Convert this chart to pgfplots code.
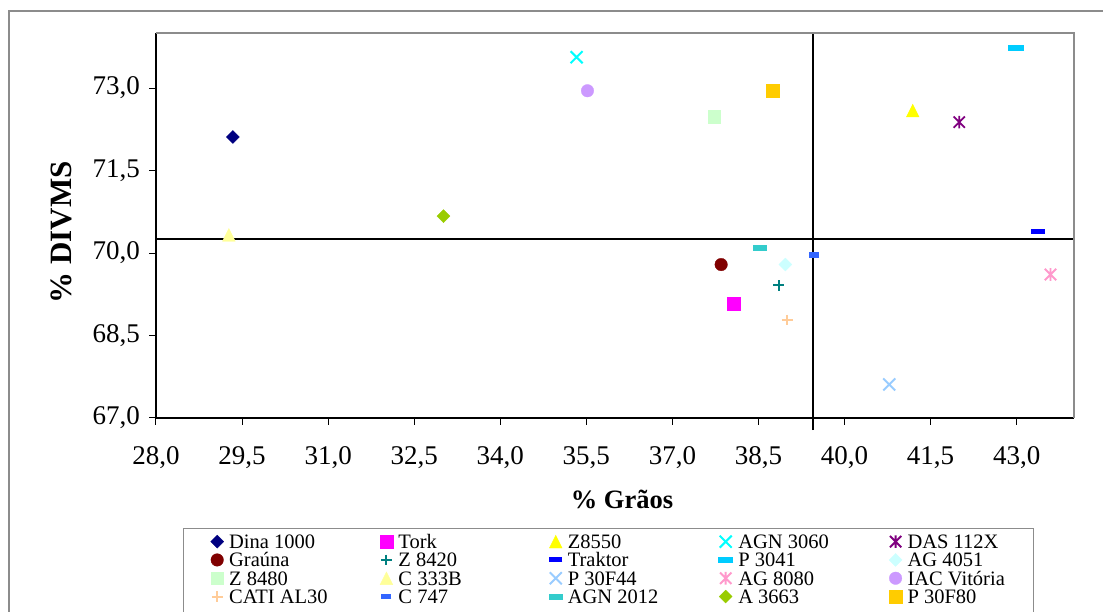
\documentclass[border=0pt]{standalone}
\usepackage{fontspec}
\setmainfont{Liberation Serif}
\usepackage{pgfplots}
\pgfplotsset{compat=1.18}

% marker colours
\definecolor{cNavy}{HTML}{000080}
\definecolor{cMagenta}{HTML}{FF00FF}
\definecolor{cYellow}{HTML}{FFFF00}
\definecolor{cCyan}{HTML}{00FFFF}
\definecolor{cPurple}{HTML}{800080}
\definecolor{cDarkRed}{HTML}{800000}
\definecolor{cTeal}{HTML}{008080}
\definecolor{cBlue}{HTML}{0000FF}
\definecolor{cSky}{HTML}{00CCFF}
\definecolor{cLightCyan}{HTML}{CCFFFF}
\definecolor{cLightGreen}{HTML}{CCFFCC}
\definecolor{cLightYellow}{HTML}{FFFF99}
\definecolor{cPaleBlue}{HTML}{99CCFF}
\definecolor{cRose}{HTML}{FF99CC}
\definecolor{cLavender}{HTML}{CC99FF}
\definecolor{cTan}{HTML}{FFCC99}
\definecolor{cRoyal}{HTML}{3366FF}
\definecolor{cAqua}{HTML}{33CCCC}
\definecolor{cLime}{HTML}{99CC00}
\definecolor{cGold}{HTML}{FFCC00}
\definecolor{frameGray}{HTML}{8C8C8C}

% plot marks in the spreadsheet style
\pgfdeclareplotmark{dmd}{%
  \pgfpathmoveto{\pgfqpoint{0pt}{\pgfplotmarksize}}%
  \pgfpathlineto{\pgfqpoint{\pgfplotmarksize}{0pt}}%
  \pgfpathlineto{\pgfqpoint{0pt}{-\pgfplotmarksize}}%
  \pgfpathlineto{\pgfqpoint{-\pgfplotmarksize}{0pt}}%
  \pgfpathclose\pgfusepathqfillstroke}
\pgfdeclareplotmark{tri}{%
  \pgfpathmoveto{\pgfqpoint{0pt}{\pgfplotmarksize}}%
  \pgfpathlineto{\pgfqpoint{\pgfplotmarksize}{-\pgfplotmarksize}}%
  \pgfpathlineto{\pgfqpoint{-\pgfplotmarksize}{-\pgfplotmarksize}}%
  \pgfpathclose\pgfusepathqfillstroke}
\pgfdeclareplotmark{cross}{%
  \pgfpathmoveto{\pgfqpoint{-\pgfplotmarksize}{-\pgfplotmarksize}}%
  \pgfpathlineto{\pgfqpoint{\pgfplotmarksize}{\pgfplotmarksize}}%
  \pgfpathmoveto{\pgfqpoint{-\pgfplotmarksize}{\pgfplotmarksize}}%
  \pgfpathlineto{\pgfqpoint{\pgfplotmarksize}{-\pgfplotmarksize}}%
  \pgfusepathqstroke}
\pgfdeclareplotmark{xstar}{%
  \pgfpathmoveto{\pgfqpoint{0pt}{-\pgfplotmarksize}}%
  \pgfpathlineto{\pgfqpoint{0pt}{\pgfplotmarksize}}%
  \pgfpathmoveto{\pgfqpoint{-.9\pgfplotmarksize}{-.9\pgfplotmarksize}}%
  \pgfpathlineto{\pgfqpoint{.9\pgfplotmarksize}{.9\pgfplotmarksize}}%
  \pgfpathmoveto{\pgfqpoint{-.9\pgfplotmarksize}{.9\pgfplotmarksize}}%
  \pgfpathlineto{\pgfqpoint{.9\pgfplotmarksize}{-.9\pgfplotmarksize}}%
  \pgfusepathqstroke}

\pgfplotsset{
  pdia/.style={only marks, mark=dmd, mark size=6.5pt, color=#1, mark options={solid, line width=0.3pt}},
  psq/.style={only marks, mark=square*, mark size=6.3pt, color=#1, mark options={solid, line width=0.3pt}},
  ptri/.style={only marks, mark=tri, mark size=6.4pt, color=#1, mark options={solid, line width=0.3pt}},
  pcirc/.style={only marks, mark=*, mark size=6.3pt, color=#1, mark options={solid, line width=0.3pt}},
  pcross/.style={only marks, mark=cross, mark size=6pt, color=#1, mark options={solid, line width=2pt}},
  pstar/.style={only marks, mark=xstar, mark size=6.3pt, color=#1, mark options={solid, line width=1.9pt}},
  pplus/.style={only marks, mark=+, mark size=5.4pt, color=#1, mark options={solid, line width=2pt}},
}

\newcommand{\legtext}[1]{\makebox[155.3pt][l]{\hspace{5pt}#1}}
\newcommand{\legtextlast}[1]{\makebox[104pt][l]{\hspace{5pt}#1}}

\begin{document}
\begin{tikzpicture}
\useasboundingbox (-156pt,-194pt) rectangle (947pt,418pt);
% chart area border
\draw[frameGray, line width=1.5pt] (-147pt,-300pt) rectangle (1000pt,407pt);
\begin{axis}[
  scale only axis, width=918pt, height=385pt,
  xmin=28, xmax=44, ymin=67, ymax=74,
  clip=false,
  axis x line*=bottom, axis y line*=left,
  axis line style={black, line width=1.2pt},
  xtick={28,29.5,31,32.5,34,35.5,37,38.5,40,41.5,43},
  ytick={67,68.5,70,71.5,73},
  tick align=outside, major tick length=7pt,
  tick style={black, line width=1pt},
  ticklabel style={font=\fontsize{27}{30}\selectfont, inner sep=0pt},
  xticklabel shift=21.7pt, yticklabel shift=9pt,
  /pgf/number format/fixed, /pgf/number format/fixed zerofill,
  /pgf/number format/precision=1, /pgf/number format/use comma,
  /pgf/number format/assume math mode=true,
  xlabel={\% Grãos}, ylabel={\% DIVMS},
  xlabel style={font=\fontsize{26.5}{30}\selectfont\bfseries,
    at={(rel axis cs:0.5076,-0.2338)}, anchor=base},
  ylabel style={font=\fontsize{31}{34}\selectfont\bfseries,
    at={(rel axis cs:-0.0915,0.482)}, anchor=base},
  legend columns=5,
  legend cell align=left,
  legend style={at={(axis description cs:0.0294,-0.2857)}, anchor=north west,
    draw=frameGray, line width=1pt, inner xsep=26.7pt, inner ysep=6pt,
    font=\fontsize{20.5}{22}\selectfont,
    column sep=0pt, row sep=0pt,
    /tikz/every even column/.style={column sep=0pt},
    /tikz/every odd column/.style={column sep=0pt},
    nodes={inner sep=0pt, text height=14pt, text depth=4.3pt}},
  legend image code/.code={\path[draw=none, fill=none] (-7pt,-4pt) rectangle (7pt,4pt);
    \draw[#1] plot coordinates {(0pt,2pt)};},
]
% reference lines
\addplot[forget plot, black, line width=1.8pt, no marks] coordinates {(28,70.26) (44,70.26)};
\addplot[forget plot, black, line width=1.8pt, no marks] coordinates {(39.455,66.78) (39.455,74)};

\addplot[pdia=cNavy] coordinates {(29.34,72.11)};
\addlegendentry{\legtext{Dina 1000}}
\addplot[psq=cMagenta] coordinates {(38.07,69.08)};
\addlegendentry{\legtext{Tork}}
\addplot[ptri=cYellow] coordinates {(41.19,72.59)};
\addlegendentry{\legtext{Z8550}}
\addplot[pcross=cCyan] coordinates {(35.33,73.56)};
\addlegendentry{\legtext{AGN 3060}}
\addplot[pstar=cPurple] coordinates {(42.00,72.38)};
\addlegendentry{\legtextlast{DAS 112X}}

\addplot[pcirc=cDarkRed] coordinates {(37.85,69.79)};
\addlegendentry{\legtext{Graúna}}
\addplot[pplus=cTeal] coordinates {(38.85,69.41)};
\addlegendentry{\legtext{Z 8420}}
\addplot[only marks, mark=-, mark size=6.65pt, color=cBlue, mark options={solid, line width=5pt}] coordinates {(43.37,70.39)};
\addlegendentry{\legtext{Traktor}}
\addplot[only marks, mark=-, mark size=7.6pt, color=cSky, mark options={solid, line width=6pt}] coordinates {(42.99,73.73)};
\addlegendentry{\legtext{P 3041}}
\addplot[pdia=cLightCyan] coordinates {(38.97,69.79)};
\addlegendentry{\legtextlast{AG 4051}}

\addplot[psq=cLightGreen] coordinates {(37.73,72.48)};
\addlegendentry{\legtext{Z 8480}}
\addplot[ptri=cLightYellow] coordinates {(29.27,70.33)};
\addlegendentry{\legtext{C 333B}}
\addplot[pcross=cPaleBlue] coordinates {(40.78,67.61)};
\addlegendentry{\legtext{P 30F44}}
\addplot[pstar=cRose] coordinates {(43.59,69.61)};
\addlegendentry{\legtext{AG 8080}}
\addplot[pcirc=cLavender] coordinates {(35.52,72.95)};
\addlegendentry{\legtextlast{IAC Vitória}}

\addplot[pplus=cTan] coordinates {(39.00,68.78)};
\addlegendentry{\legtext{CATI AL30}}
\addplot[only marks, mark=-, mark size=5pt, color=cRoyal, mark options={solid, line width=5.5pt}] coordinates {(39.47,69.96)};
\addlegendentry{\legtext{C 747}}
\addplot[only marks, mark=-, mark size=7pt, color=cAqua, mark options={solid, line width=6pt}] coordinates {(38.52,70.09)};
\addlegendentry{\legtext{AGN 2012}}
\addplot[pdia=cLime] coordinates {(33.01,70.67)};
\addlegendentry{\legtext{A 3663}}
\addplot[psq=cGold] coordinates {(38.75,72.95)};
\addlegendentry{\legtextlast{P 30F80}}

% plot area border on the open sides
\draw[frameGray, line width=1.3pt] (rel axis cs:0,1) -- (rel axis cs:1,1) -- (rel axis cs:1,0);
\end{axis}
\end{tikzpicture}
\end{document}
